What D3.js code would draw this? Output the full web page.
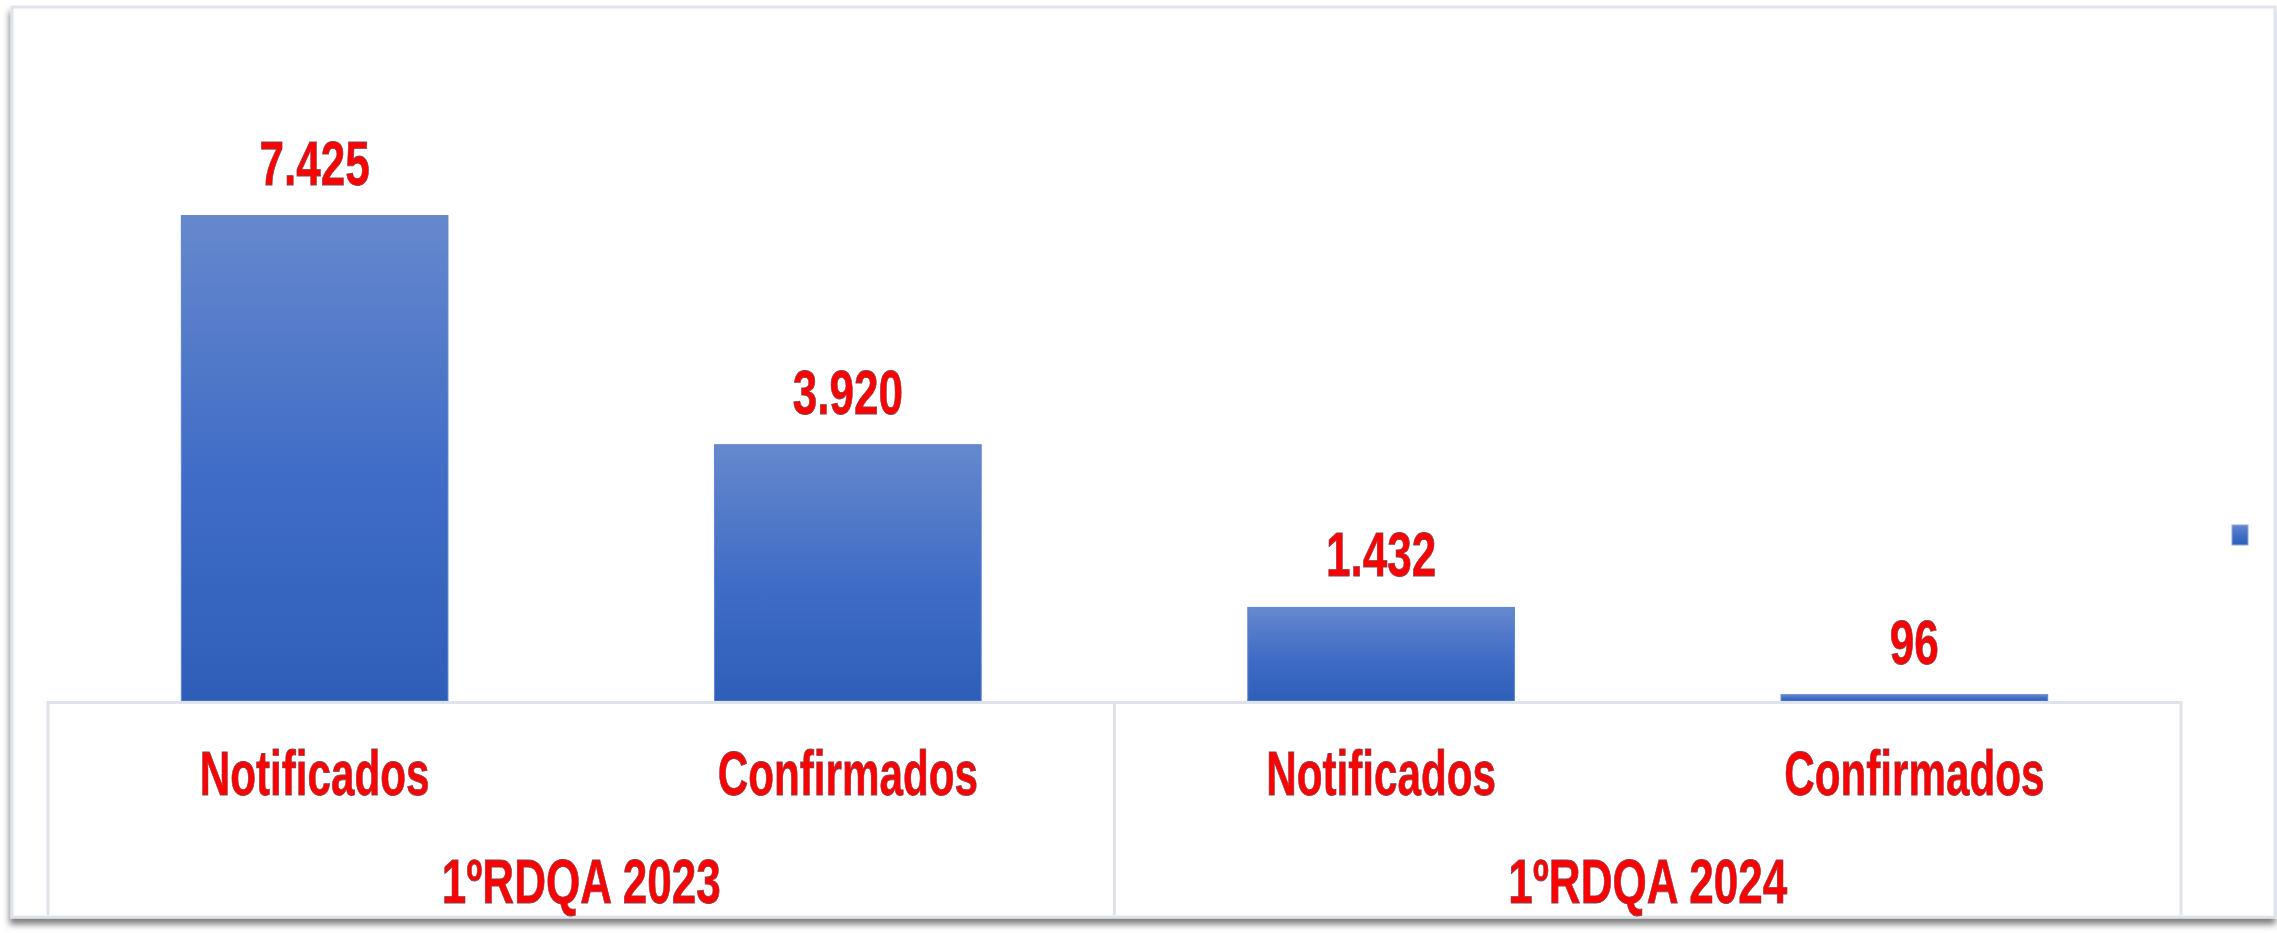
<!DOCTYPE html>
<html>
<head>
<meta charset="utf-8">
<script src="https://cdn.jsdelivr.net/npm/d3@7"></script>
<style>
  body { margin: 0; background: #fff; }
  svg { display: block; font-family: "Liberation Sans", Arial, sans-serif; }
</style>
</head>
<body>
<script>
// data
var categories = ["Notificados", "Confirmados", "Notificados ", "Confirmados "];
var values = [7425, 3920, 1432, 96];
var valueLabels = ["7.425", "3.920", "1.432", "96"];
var groups = ["1ºRDQA 2023", "1ºRDQA 2024"];

var width = 2277,
    height = 933;

var left = 48, right = 2181, base = 701;

var svg = d3.select("body").append("svg")
    .attr("width", width)
    .attr("height", height);

var defs = svg.append("defs");

var grad = defs.append("linearGradient")
    .attr("id", "barGrad")
    .attr("x1", 0).attr("y1", 0).attr("x2", 0).attr("y2", 1);
grad.append("stop").attr("offset", "0%").attr("stop-color", "#6688cd");
grad.append("stop").attr("offset", "55%").attr("stop-color", "#3f6cc6");
grad.append("stop").attr("offset", "100%").attr("stop-color", "#2e5fb8");

var shadow = defs.append("filter")
    .attr("id", "shadow")
    .attr("x", "-2%").attr("y", "-2%").attr("width", "104%").attr("height", "106%");
shadow.append("feDropShadow")
    .attr("dx", -1).attr("dy", 6)
    .attr("stdDeviation", 3)
    .attr("flood-color", "#000")
    .attr("flood-opacity", 0.5);

// outer frame
svg.append("rect")
    .attr("x", 12).attr("y", 7)
    .attr("width", 2263).attr("height", 910)
    .attr("fill", "#fff")
    .attr("stroke", "#dfe4ec")
    .attr("stroke-width", 3)
    .attr("filter", "url(#shadow)");

var x = d3.scaleBand()
    .domain(categories)
    .range([left, right])
    .paddingInner(0.5)
    .paddingOuter(0.25);

var y = d3.scaleLinear()
    .domain([0, 8000])
    .range([base, 178]);

var groupX = d3.scaleBand()
    .domain(groups)
    .range([left, right]);

// bars
svg.append("g")
    .selectAll("rect")
    .data(values)
    .enter().append("rect")
    .attr("x", function(d, i) { return x(categories[i]); })
    .attr("y", function(d) { return y(d); })
    .attr("width", x.bandwidth())
    .attr("height", function(d) { return y(0) - y(d); })
    .attr("fill", "url(#barGrad)")
    .attr("stroke", "#5b83cf")
    .attr("stroke-width", 1);

// red outlined text helper
function redText(sel) {
    sel.attr("fill", "#ff0000")
        .attr("stroke", "#7a4656")
        .attr("stroke-width", 0.8)
        .attr("font-weight", "bold")
        .attr("font-size", 63)
        .attr("text-anchor", "middle");
}

// value labels
svg.append("g")
    .selectAll("g")
    .data(values)
    .enter().append("g")
    .attr("transform", function(d, i) {
        return "translate(" + (x(categories[i]) + x.bandwidth() / 2) + "," + (y(d) - 31) + ")";
    })
    .append("text")
    .attr("transform", "scale(0.7,1)")
    .text(function(d, i) { return valueLabels[i]; })
    .call(redText);

// category box lines
var box = svg.append("g")
    .attr("stroke", "#dfe4ec")
    .attr("stroke-width", 3)
    .attr("fill", "none");

box.append("line")
    .attr("x1", left).attr("x2", right)
    .attr("y1", base + 1.5).attr("y2", base + 1.5);

box.selectAll(".sep")
    .data([left, groupX(groups[1]), right])
    .enter().append("line")
    .attr("x1", function(d) { return d; })
    .attr("x2", function(d) { return d; })
    .attr("y1", base).attr("y2", 915);

// category labels via axis
var xAxis = d3.axisBottom(x).tickSize(0).tickPadding(0);
var ax = svg.append("g")
    .attr("transform", "translate(0," + base + ")")
    .call(xAxis);
ax.select(".domain").remove();
ax.selectAll("text")
    .attr("y", 94)
    .attr("dy", 0)
    .attr("transform", "scale(0.67,1)")
    .text(function(d) { return d.trim(); })
    .call(redText);

// group labels
svg.append("g")
    .selectAll("g")
    .data(groups)
    .enter().append("g")
    .attr("transform", function(d) {
        return "translate(" + (groupX(d) + groupX.bandwidth() / 2) + ",903)";
    })
    .append("text")
    .attr("transform", "scale(0.7,1)")
    .text(function(d) { return d; })
    .call(redText);

// lone legend marker
svg.append("rect")
    .attr("x", 2232).attr("y", 525)
    .attr("width", 16).attr("height", 20)
    .attr("fill", "url(#barGrad)")
    .attr("stroke", "#8fa8dd")
    .attr("stroke-width", 1);
</script>
</body>
</html>
